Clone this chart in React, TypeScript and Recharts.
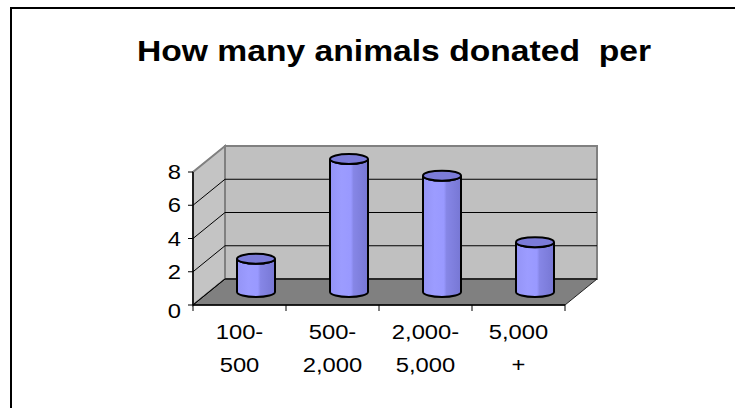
import { BarChart, Bar, XAxis, YAxis, CartesianGrid } from "recharts";

const CATEGORIES = ["100-500", "500-2,000", "2,000-5,000", "5,000+"];
const CATEGORY_LINES = [
  ["100-", "500"],
  ["500-", "2,000"],
  ["2,000-", "5,000"],
  ["5,000", "+"],
];
const ANIMALS = [2, 8, 7, 3];
const Y_TICKS = [0, 2, 4, 6, 8];

const data = CATEGORIES.map((name, i) => ({ name, value: ANIMALS[i] }));

// front plane of the 3d box, and depth offset of the back wall
const PLOT_LEFT = 193;
const PLOT_RIGHT = 565;
const PLOT_TOP = 172;
const PLOT_BOTTOM = 305;
const DX = 32;
const DY = -26;
const Y_AXIS_W = 60;
const X_AXIS_H = 90;
const STRETCH = 1.16;
const FONT = "'Liberation Sans', Arial, sans-serif";

function Walls({ x1, x2, y1, index }: any) {
  const gridColor = Math.abs(y1 - PLOT_TOP) < 1 ? "#808080" : "#000";
  return (
    <g key={`grid-${index}`}>
      {index === 0 && (
        <g>
          <rect
            x={PLOT_LEFT + DX}
            y={PLOT_TOP + DY}
            width={PLOT_RIGHT - PLOT_LEFT}
            height={PLOT_BOTTOM - PLOT_TOP}
            fill="#c0c0c0"
            stroke="#808080"
            strokeWidth={2}
          />
          <polygon
            points={`${PLOT_LEFT},${PLOT_BOTTOM} ${PLOT_LEFT + DX},${PLOT_BOTTOM + DY} ${PLOT_LEFT + DX},${PLOT_TOP + DY} ${PLOT_LEFT},${PLOT_TOP}`}
            fill="#c4c4c4"
            stroke="#808080"
            strokeWidth={2}
          />
          <polygon
            points={`${PLOT_LEFT},${PLOT_BOTTOM} ${PLOT_RIGHT},${PLOT_BOTTOM} ${PLOT_RIGHT + DX},${PLOT_BOTTOM + DY} ${PLOT_LEFT + DX},${PLOT_BOTTOM + DY}`}
            fill="#808080"
            stroke="#222"
            strokeWidth={1}
          />
        </g>
      )}
      <line x1={x1} y1={y1} x2={x1 + DX} y2={y1 + DY} stroke={gridColor} strokeWidth={1} />
      <line x1={x1 + DX} y1={y1 + DY} x2={x2 + DX} y2={y1 + DY} stroke={gridColor} strokeWidth={1} />
    </g>
  );
}

function Cylinder(props: any) {
  const { x, y, width, height } = props;
  if (height == null || width == null) return null;
  const rx = width / 2;
  const ry = 5;
  const cx = x + rx + DX / 2;
  const top = y + DY / 2;
  const bottom = y + height + DY / 2;
  const left = cx - rx;
  const right = cx + rx;
  const body = `M${left},${top} L${left},${bottom} A${rx},${ry} 0 0 0 ${right},${bottom} L${right},${top} A${rx},${ry} 0 0 1 ${left},${top} Z`;
  return (
    <g>
      <path d={body} fill="url(#cyl)" stroke="#000" strokeWidth={2} />
      <ellipse cx={cx} cy={top} rx={rx} ry={ry} fill="#7b7bd8" stroke="#000" strokeWidth={2} />
    </g>
  );
}

function CategoryTick({ x, y, index }: any) {
  const half = (PLOT_RIGHT - PLOT_LEFT) / CATEGORIES.length / 2;
  const lines = CATEGORY_LINES[index] || [];
  return (
    <g>
      <line x1={x - half} y1={y} x2={x - half} y2={y + 6} stroke="#000" />
      {index === CATEGORIES.length - 1 && (
        <line x1={x + half} y1={y} x2={x + half} y2={y + 6} stroke="#000" />
      )}
      <g transform={`translate(${x},${y}) scale(${STRETCH},1)`}>
        <text x={0} y={34.5} textAnchor="middle" fontSize={20.5} fontFamily={FONT} fill="#000">
          {lines[0]}
        </text>
        <text x={0} y={67} textAnchor="middle" fontSize={20.5} fontFamily={FONT} fill="#000">
          {lines[1]}
        </text>
      </g>
    </g>
  );
}

function ValueTick({ x, y, payload }: any) {
  // the zero label sits a little below the floor's front edge
  const dy = payload.value === 0 ? 13 : 7;
  return (
    <g transform={`translate(${x},${y}) scale(${STRETCH},1)`}>
      <text x={0} y={dy} textAnchor="end" fontSize={20.5} fontFamily={FONT} fill="#000">
        {payload.value}
      </text>
    </g>
  );
}

export default function App() {
  return (
    <div
      style={{
        position: "absolute",
        left: 0,
        top: 0,
        width: 735,
        height: 408,
        overflow: "hidden",
        background: "#fff",
      }}
    >
      <div
        style={{
          position: "absolute",
          left: 10,
          top: 7,
          width: 780,
          height: 430,
          border: "2px solid #000",
        }}
      />
      <div
        style={{
          position: "absolute",
          left: 0,
          top: 34,
          width: 788,
          lineHeight: "34px",
          textAlign: "center",
          fontFamily: FONT,
          fontWeight: "bold",
          fontSize: 29,
          whiteSpace: "pre",
          transform: `scaleX(${STRETCH})`,
          transformOrigin: "394px 0",
        }}
      >
        How many animals donated  per
      </div>
      <div style={{ position: "absolute", left: 0, top: 0 }}>
        <BarChart
          width={735}
          height={408}
          data={data}
          barSize={38}
          margin={{
            top: PLOT_TOP,
            left: PLOT_LEFT - Y_AXIS_W,
            right: 735 - PLOT_RIGHT,
            bottom: 408 - PLOT_BOTTOM - X_AXIS_H,
          }}
        >
          <defs>
            <linearGradient id="cyl" x1="0" y1="0" x2="1" y2="0">
              <stop offset="0%" stopColor="#9494f6" />
              <stop offset="30%" stopColor="#9c9cff" />
              <stop offset="55%" stopColor="#9999ff" />
              <stop offset="62%" stopColor="#8686e6" />
              <stop offset="100%" stopColor="#7777d4" />
            </linearGradient>
          </defs>
          <CartesianGrid vertical={false} horizontal={(p: any) => <Walls {...p} />} />
          <XAxis
            dataKey="name"
            interval={0}
            height={X_AXIS_H}
            tickLine={false}
            tickSize={0}
            tickMargin={0}
            axisLine={{ stroke: "#000", strokeWidth: 1.5 }}
            tick={<CategoryTick />}
          />
          <YAxis
            width={Y_AXIS_W}
            domain={[0, 8]}
            ticks={Y_TICKS}
            interval={0}
            tickSize={5}
            tickMargin={7}
            tickLine={{ stroke: "#000" }}
            axisLine={{ stroke: "#000", strokeWidth: 1.5 }}
            tick={<ValueTick />}
          />
          <Bar dataKey="value" isAnimationActive={false} shape={(p: any) => <Cylinder {...p} />} />
        </BarChart>
      </div>
    </div>
  );
}
